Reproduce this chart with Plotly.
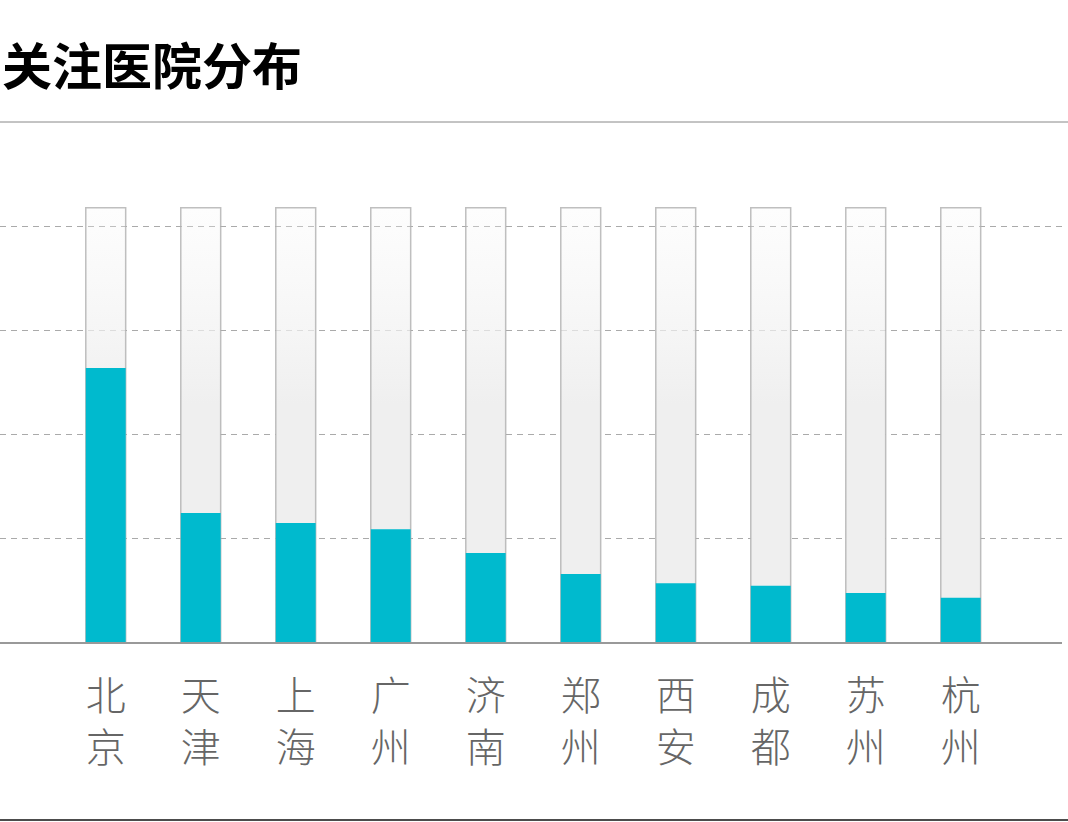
import plotly.graph_objects as go

# city labels (stacked vertically, one character per line)
cities = ['北京', '天津', '上海', '广州', '济南', '郑州', '西安', '成都', '苏州', '杭州']
# share of followed hospitals (gridlines every 20)
values = [52.7, 24.8, 22.9, 21.7, 17.1, 13.1, 11.3, 10.8, 9.4, 8.5]
# full-height track behind each bar
track_max = 83.5
grid_vals = [20, 40, 60, 80]

CYAN = '#00BACE'
TEXT_GRAY = '#666666'
BAR_W = 0.42
X_RANGE = [-1.113, 10.066]
Y_RANGE = [0, 85]

x_pos = list(range(len(cities)))
tick_text = ['<br>'.join(list(c)) for c in cities]

fig = go.Figure()

# background tracks with a vertical fade towards the top
for i in x_pos:
    x0, x1 = i - BAR_W / 2, i + BAR_W / 2
    fig.add_trace(go.Scatter(
        x=[x0, x1, x1, x0, x0],
        y=[0, 0, track_max, track_max, 0],
        mode='lines',
        fill='toself',
        fillgradient=dict(
            type='vertical',
            colorscale=[[0, 'rgb(239,239,239)'], [0.55, 'rgb(239,239,239)'],
                        [1, 'rgba(245,245,245,0.2)']]
        ),
        line=dict(color='rgba(175,175,175,0.8)', width=1.5),
        hoverinfo='skip',
        showlegend=False
    ))

# actual values, on an overlaid subplot so they sit above the tracks
fig.add_trace(go.Bar(
    x=x_pos,
    y=values,
    width=BAR_W,
    xaxis='x2',
    yaxis='y2',
    marker=dict(color=CYAN, line=dict(width=0)),
    customdata=cities,
    hovertemplate='%{customdata}: %{y}<extra></extra>',
    showlegend=False
))

fig.update_layout(
    width=1068,
    height=822,
    plot_bgcolor='white',
    paper_bgcolor='white',
    margin=dict(l=0, r=6, t=200, b=180),
    title=dict(
        text='<b>关注医院分布</b>',
        font=dict(size=50, color='#000000', family='Noto Sans CJK SC'),
        xref='container', x=0, xanchor='left',
        yref='container', y=1 - 67 / 822, yanchor='middle',
        pad=dict(l=2, t=0, b=0, r=0)
    ),
    xaxis=dict(
        range=X_RANGE,
        tickvals=x_pos,
        ticktext=tick_text,
        tickfont=dict(size=40, color=TEXT_GRAY, family='Noto Sans CJK SC', weight=300),
        ticks='outside',
        ticklen=18,
        tickcolor='rgba(0,0,0,0)',
        showgrid=False,
        zeroline=False,
        showline=True,
        linecolor='#999999',
        linewidth=1.5,
        fixedrange=True
    ),
    yaxis=dict(
        range=Y_RANGE,
        tickvals=grid_vals,
        showticklabels=False,
        showgrid=True,
        gridcolor='#aaaaaa',
        gridwidth=1,
        griddash='6px,5px',
        zeroline=False,
        fixedrange=True
    ),
    xaxis2=dict(range=X_RANGE, overlaying='x', visible=False, fixedrange=True),
    yaxis2=dict(range=Y_RANGE, overlaying='y', visible=False, fixedrange=True),
    showlegend=False,
    shapes=[
        # rule under the title
        dict(type='line', xref='paper', yref='paper',
             x0=0, x1=1068 / 1062, y0=(642 - 122) / 442, y1=(642 - 122) / 442,
             line=dict(color='#888888', width=1)),
        # rule at the bottom
        dict(type='line', xref='paper', yref='paper',
             x0=0, x1=1068 / 1062, y0=(642 - 820) / 442, y1=(642 - 820) / 442,
             line=dict(color='#111111', width=1.5)),
    ]
)

fig.write_html('out.html', config={'displayModeBar': False},
               post_script="document.body.style.margin='0';")
